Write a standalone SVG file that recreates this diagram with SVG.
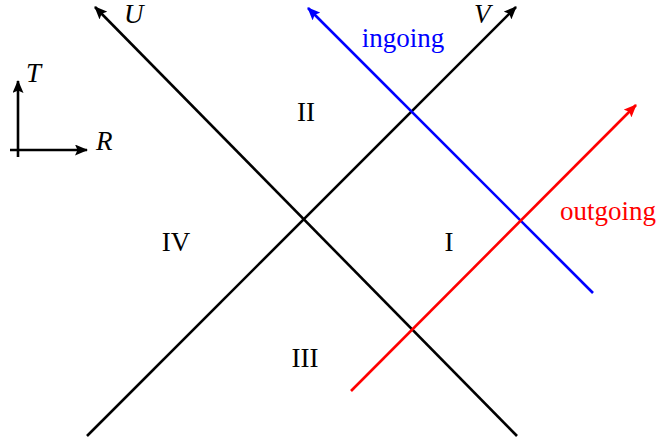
<svg xmlns="http://www.w3.org/2000/svg" width="660" height="443" viewBox="0 0 660 443">
<defs>
<style>
.ln{fill:none;stroke-width:2.6;stroke-linecap:butt}
.k{stroke:#000}.b{stroke:#0000ff}.r{stroke:#ff0000}
.t{font-family:"Liberation Serif","Times New Roman",serif;font-size:27px}
.it{font-style:italic}
</style>
<marker id="ak" viewBox="0 0 13 11" refX="12" refY="5.5" markerWidth="13" markerHeight="11" markerUnits="userSpaceOnUse" orient="auto"><path d="M0,0 L13,5.5 L0,11 L2.5,5.5 Z" fill="#000"/></marker>
<marker id="ab" viewBox="0 0 13 11" refX="12" refY="5.5" markerWidth="13" markerHeight="11" markerUnits="userSpaceOnUse" orient="auto"><path d="M0,0 L13,5.5 L0,11 L2.5,5.5 Z" fill="#0000ff"/></marker>
<marker id="ar" viewBox="0 0 13 11" refX="12" refY="5.5" markerWidth="13" markerHeight="11" markerUnits="userSpaceOnUse" orient="auto"><path d="M0,0 L13,5.5 L0,11 L2.5,5.5 Z" fill="#ff0000"/></marker>
</defs>
<g id="connectors">
<line class="ln k" x1="87" y1="436" x2="516" y2="7" marker-end="url(#ak)"/>
<line class="ln k" x1="517" y1="436" x2="95" y2="7" marker-end="url(#ak)"/>
<line class="ln b" x1="593" y1="293" x2="308" y2="8" marker-end="url(#ab)"/>
<line class="ln r" x1="351" y1="391" x2="636" y2="105" marker-end="url(#ar)"/>
<line class="ln k" x1="18" y1="157" x2="18" y2="81" marker-end="url(#ak)"/>
<line class="ln k" x1="10" y1="150" x2="87" y2="150" marker-end="url(#ak)"/>
</g>
<g id="labels">
<text class="t it" x="124" y="23">U</text>
<text class="t it" x="474" y="23">V</text>
<text class="t it" x="26" y="82">T</text>
<text class="t it" x="96" y="150">R</text>
<text class="t" x="403" y="47" text-anchor="middle" fill="#0000ff">ingoing</text>
<text class="t" x="608" y="220" text-anchor="middle" fill="#ff0000">outgoing</text>
</g>
<g id="region-II"><text class="t" x="306" y="121" text-anchor="middle">II</text></g>
<g id="region-IV"><text class="t" x="176" y="251" text-anchor="middle">IV</text></g>
<g id="region-I"><text class="t" x="449" y="251" text-anchor="middle">I</text></g>
<g id="region-III"><text class="t" x="305" y="367" text-anchor="middle">III</text></g>
</svg>
